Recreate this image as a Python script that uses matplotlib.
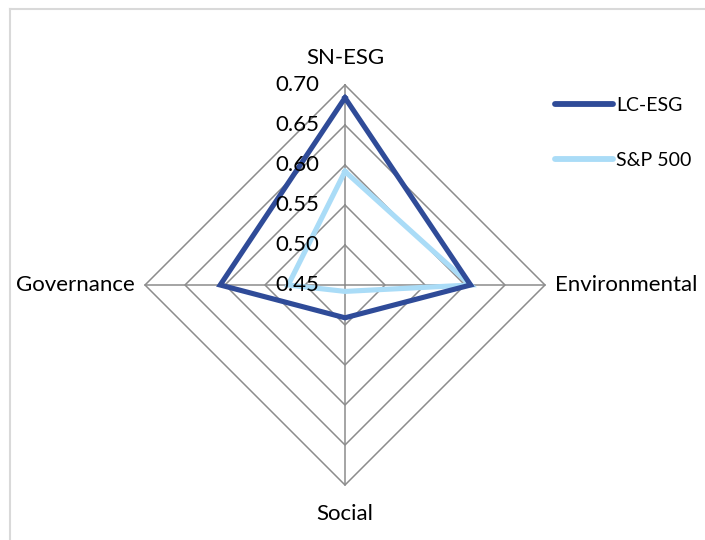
import numpy as np
import matplotlib
matplotlib.use("Agg")
import matplotlib.pyplot as plt
from matplotlib.lines import Line2D
from matplotlib.transforms import offset_copy

categories = ["SN-ESG", "Environmental", "Social", "Governance"]
lc_esg = [0.684, 0.607, 0.491, 0.606]
sp500 = [0.592, 0.607, 0.458, 0.521]
ring_values = [0.45, 0.50, 0.55, 0.60, 0.65, 0.70]
tick_labels = ["0.45", "0.50", "0.55", "0.60", "0.65", "0.70"]
series_names = ["LC-ESG", "S&P 500"]

FONT = ["Lato", "DejaVu Sans"]
plt.rcParams["font.family"] = FONT

W, H = 705, 540
fig = plt.figure(figsize=(W / 100, H / 100), dpi=100)

# light border (top/left visible)
fig.add_artist(Line2D([10 / W, 10 / W], [0, 1 - 9 / H], transform=fig.transFigure, color="#d9d9d9", lw=1.5))
fig.add_artist(Line2D([10 / W, 1], [1 - 9 / H, 1 - 9 / H], transform=fig.transFigure, color="#d9d9d9", lw=1.5))

cx, cy, R = 345, 285, 200
ax = fig.add_axes([(cx - R) / W, (H - cy - R) / H, 2 * R / W, 2 * R / H], projection="polar")
ax.set_theta_zero_location("N")
ax.set_theta_direction(-1)
ax.set_ylim(ring_values[0], ring_values[-1])
ax.grid(False)
ax.spines["polar"].set_visible(False)
ax.set_xticks([])
ax.set_yticks([])
ax.patch.set_alpha(0)

n = len(categories)
angles = np.arange(n) * 2 * np.pi / n
closed = np.append(angles, angles[0])

grid_col = "#8c8c8c"
for rv in ring_values[1:]:
    ax.plot(closed, [rv] * (n + 1), color=grid_col, lw=1.1, zorder=1, clip_on=False)
for a in angles:
    ax.plot([a, a], [ring_values[0], ring_values[-1]], color=grid_col, lw=1.1, zorder=1, clip_on=False)

dark = "#2f4b98"
light = "#aadcf7"
ax.plot(closed, lc_esg + [lc_esg[0]], color=dark, lw=3.7, zorder=3, clip_on=False, solid_joinstyle="miter")
ax.plot(closed, sp500 + [sp500[0]], color=light, lw=3.7, zorder=2, clip_on=False, solid_joinstyle="miter")

# radial tick labels
for rv, lab in zip(ring_values, tick_labels):
    t = offset_copy(ax.transData, fig=fig, x=-26, y=0, units="dots")
    ax.text(0, rv, lab, transform=t, ha="right", va="center", fontsize=16, color="#000000", zorder=5)

# category labels
fs = 16
ax.text(0, ring_values[-1], categories[0], transform=offset_copy(ax.transData, fig=fig, x=0, y=27, units="dots"),
        ha="center", va="center", fontsize=fs)
ax.text(angles[1], ring_values[-1], categories[1], transform=offset_copy(ax.transData, fig=fig, x=10, y=0, units="dots"),
        ha="left", va="center", fontsize=fs)
ax.text(angles[2], ring_values[-1], categories[2], transform=offset_copy(ax.transData, fig=fig, x=0, y=-29, units="dots"),
        ha="center", va="center", fontsize=fs)
ax.text(angles[3], ring_values[-1], categories[3], transform=offset_copy(ax.transData, fig=fig, x=-10, y=0, units="dots"),
        ha="right", va="center", fontsize=fs)

handles = [Line2D([], [], color=dark, lw=4.2, solid_capstyle="round"),
           Line2D([], [], color=light, lw=4.2, solid_capstyle="round")]
fig.legend(handles, series_names, loc="upper left", bbox_to_anchor=(555 / W, 1 - 97 / H),
           frameon=False, fontsize=14, handlelength=3.0, handletextpad=0.15, labelspacing=1.95,
           borderaxespad=0, borderpad=0)

fig.savefig("out.png", dpi=100, facecolor="white")
